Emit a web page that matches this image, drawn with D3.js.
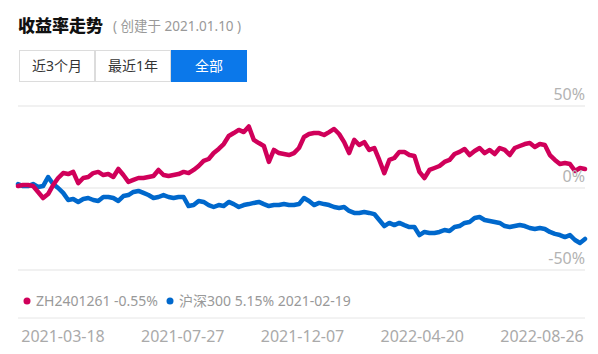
<!DOCTYPE html>
<html><head><meta charset="utf-8">
<script src="https://cdn.jsdelivr.net/npm/d3@7"></script>
<style>
html,body{margin:0;padding:0;background:#fff;}
svg{display:block;}
</style></head>
<body>
<svg id="c" width="598" height="354"></svg>
<script>
// ---- data (values in %) ----
const seriesNames = ["ZH2401261", "沪深300"];
const portfolio = [1.2,1.8,1.8,1.2,-2.4,-6.1,-3.7,1.8,6.1,9.1,
  8.5,9.8,3.0,6.1,6.7,9.1,9.8,7.9,8.5,6.7,
  11.6,7.9,3.7,4.9,6.1,6.1,6.7,7.3,11.0,7.9,
  7.3,7.9,8.5,9.8,9.1,11.0,13.4,16.5,17.7,21.3,
  23.8,26.8,31.7,33.5,35.4,34.1,37.5,29.3,27.4,25.6,
  15.9,23.2,21.3,20.7,20.1,21.3,24.4,31.1,32.9,33.5,
  33.5,32.3,34.1,36.0,32.9,28.0,21.3,29.3,26.2,28.0,
  23.2,24.4,17.1,9.1,17.1,18.3,22.0,22.0,20.1,19.5,
  9.8,6.1,11.0,12.2,13.4,15.9,17.1,20.7,22.0,23.8,
  20.1,22.6,24.4,21.3,23.2,20.7,24.4,23.2,20.1,24.4,
  25.6,26.8,27.4,25.0,26.8,26.2,20.1,17.1,14.6,15.2,
  14.6,10.4,12.2,11.6];
const hs300 = [2.4,1.2,1.2,2.4,0.6,1.2,6.7,2.4,0,-3.0,
  -7.3,-6.7,-8.5,-6.7,-6.1,-7.3,-7.9,-5.5,-5.5,-6.1,
  -7.9,-4.9,-4.3,-2.4,-1.8,-3.0,-4.3,-6.1,-5.5,-4.3,
  -5.5,-6.1,-5.5,-5.5,-11.0,-10.4,-7.9,-8.5,-10.4,-11.6,
  -10.4,-11.0,-8.5,-9.8,-11.6,-10.4,-9.8,-9.1,-8.5,-9.8,
  -11.0,-10.4,-10.4,-9.8,-10.4,-10.4,-9.8,-6.1,-7.9,-10.4,
  -9.1,-9.8,-10.4,-11.6,-12.2,-11.6,-14.0,-15.2,-15.2,-14.6,
  -15.2,-15.9,-19.5,-23.2,-21.3,-22.6,-21.3,-22.6,-23.8,-23.8,
  -28.7,-26.8,-27.4,-27.4,-26.8,-25.6,-26.2,-23.8,-23.2,-21.3,
  -20.7,-18.3,-17.7,-19.5,-20.1,-20.7,-21.3,-23.2,-23.8,-23.2,
  -22.6,-23.2,-24.4,-25.0,-24.4,-25.0,-26.8,-28.0,-28.7,-29.9,
  -28.7,-31.7,-33.5,-31.1];
const xTickLabels = ["2021-03-18","2021-07-27","2021-12-07","2022-04-20","2022-08-26"];
const yTicks = [50, 0, -50];
const buttons = ["近3个月","最近1年","全部"];
const legendItems = [
  {text:"ZH2401261 -0.55%", color:"#d0005a"},
  {text:"沪深300 5.15% 2021-02-19", color:"#0068cc"}
];
const title = "收益率走势";
const subtitle = "( 创建于 2021.01.10 )";

// ---- drawing ----
const svg = d3.select("#c");
const latin = "'Noto Sans', 'Open Sans', sans-serif";
const cjk = "'Noto Sans', 'Noto Sans CJK SC', sans-serif";

svg.append("text").attr("x",18).attr("y",32)
  .attr("font-family","'Noto Sans CJK SC', sans-serif").attr("font-weight",900)
  .attr("font-size",17).attr("fill","#111").text(title);
svg.append("text").attr("x",113).attr("y",31)
  .attr("font-family",cjk).attr("font-size",13.5).attr("fill","#999").text(subtitle);

// buttons
const bx = d3.scaleBand().domain(buttons).range([19,247]).padding(0);
const bg = svg.append("g");
buttons.forEach((b,i)=>{
  const active = i===2;
  bg.append("rect").attr("x",bx(b)+0.5).attr("y",50.5).attr("width",bx.bandwidth()-1).attr("height",31)
    .attr("fill",active?"#0b78ea":"#fff").attr("stroke",active?"#0b78ea":"#dcdcdc").attr("stroke-width",1);
  bg.append("text").attr("x",bx(b)+bx.bandwidth()/2).attr("y",71).attr("text-anchor","middle")
    .attr("font-family",cjk).attr("font-size",14).attr("fill",active?"#fff":"#333").text(b);
});

const left = 18, right = 585;
const x = d3.scaleLinear().domain([0, portfolio.length-1]).range([left, right]);
const y = d3.scaleLinear().domain([-50, 50]).range([270, 106]);

// gridlines
svg.append("g").selectAll("line").data(yTicks).join("line")
  .attr("x1",left).attr("x2",right).attr("y1",d=>y(d)).attr("y2",d=>y(d))
  .attr("stroke","#ececec").attr("stroke-width",1.5);

const line = d3.line().x((d,i)=>x(i)).y(d=>y(d)).curve(d3.curveLinear);
svg.append("path").datum(hs300).attr("d",line).attr("fill","none")
  .attr("stroke",legendItems[1].color).attr("stroke-width",4.5).attr("stroke-linejoin","round").attr("stroke-linecap","round");
svg.append("path").datum(portfolio).attr("d",line).attr("fill","none")
  .attr("stroke",legendItems[0].color).attr("stroke-width",4.5).attr("stroke-linejoin","round").attr("stroke-linecap","round");

// y labels
svg.append("g").selectAll("text").data(yTicks).join("text")
  .attr("x",right).attr("y",d=>y(d)-6).attr("text-anchor","end")
  .attr("font-family",latin).attr("font-size",16).attr("fill","#b3b3b3")
  .text(d=>d+"%");

// legend
const lg = svg.append("g");
let lx = 27;
legendItems.forEach((it)=>{
  lg.append("circle").attr("cx",lx).attr("cy",301).attr("r",3.5).attr("fill",it.color);
  const t = lg.append("text").attr("x",lx+9).attr("y",306)
    .attr("font-family",cjk).attr("font-size",14).attr("fill","#999").text(it.text);
  lx = lx + 9 + t.node().getComputedTextLength() + 12;
});
svg.append("line").attr("x1",left).attr("x2",right).attr("y1",318).attr("y2",318)
  .attr("stroke","#e6e6e6").attr("stroke-width",1);

// x labels
const xl = d3.scalePoint().domain(xTickLabels).range([left+45, right-43]);
svg.append("g").selectAll("text").data(xTickLabels).join("text")
  .attr("x",d=>xl(d)).attr("y",342).attr("text-anchor","middle")
  .attr("font-family",latin).attr("font-size",16).attr("fill","#aaa").text(d=>d);
</script>
</body></html>
